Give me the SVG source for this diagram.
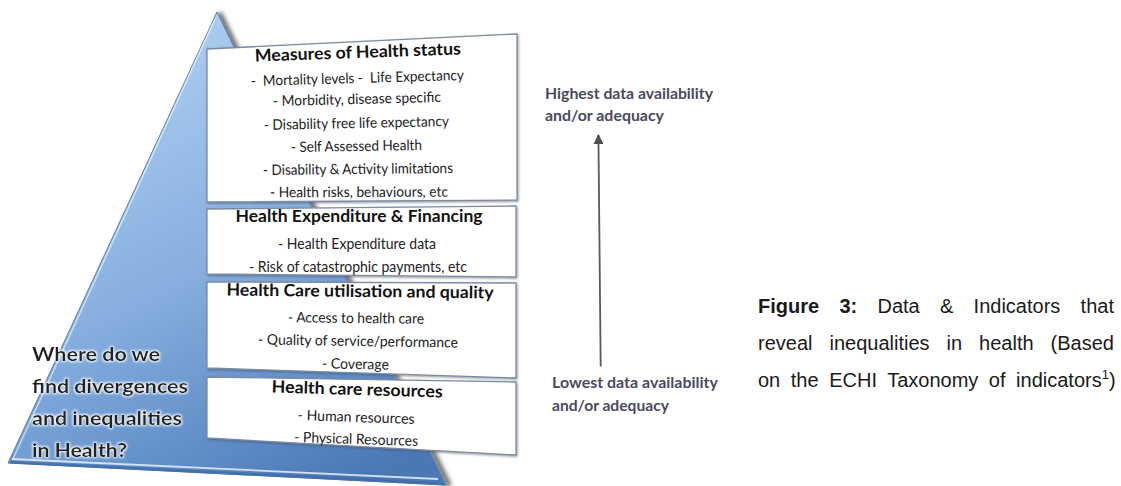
<svg xmlns="http://www.w3.org/2000/svg" width="1121" height="486" viewBox="0 0 1121 486">
<defs>
<linearGradient id="pyrGrad" gradientUnits="userSpaceOnUse" x1="140" y1="60" x2="360" y2="480">
<stop offset="0" stop-color="#a9cbef"/>
<stop offset="0.45" stop-color="#86afdf"/>
<stop offset="0.8" stop-color="#5f8cc7"/>
<stop offset="1" stop-color="#4a78b6"/>
</linearGradient>
<filter id="blur3" x="-20%" y="-20%" width="140%" height="140%"><feGaussianBlur stdDeviation="2.2"/></filter>
<filter id="boxShadow" x="-5%" y="-5%" width="110%" height="115%"><feDropShadow dx="1" dy="1.2" stdDeviation="0.9" flood-color="#40485a" flood-opacity="0.55"/></filter>
<filter id="glow" x="-10%" y="-30%" width="120%" height="160%">
<feMorphology in="SourceAlpha" operator="dilate" radius="1.2" result="d"/>
<feFlood flood-color="#ffffff" flood-opacity="0.85"/>
<feComposite in2="d" operator="in" result="w"/>
<feGaussianBlur in="w" stdDeviation="1.3" result="wb"/>
<feMerge><feMergeNode in="wb"/><feMergeNode in="SourceGraphic"/></feMerge>
</filter>
<marker id="arrowHead" viewBox="0 0 10 10" refX="9" refY="5" markerWidth="10" markerHeight="10" markerUnits="userSpaceOnUse" orient="auto">
<path d="M0,0 L10,5 L0,10 Z" fill="#4f4f4f"/>
</marker>
<style>
.box{fill:#ffffff;stroke:#7c8ba2;stroke-width:1.3;filter:url(#boxShadow)}
.ttl{font-family:Lato,"Open Sans","Liberation Sans",sans-serif;font-weight:bold;font-size:17px;fill:#111111;text-anchor:middle}
.itm{font-family:Lato,"Open Sans","Liberation Sans",sans-serif;font-size:14.5px;fill:#222222;text-anchor:middle}
.q{font-family:Lato,"Open Sans","Liberation Sans",sans-serif;font-weight:bold;font-size:19.5px;fill:#222222}
.avail{font-family:Lato,"Open Sans","Liberation Sans",sans-serif;font-weight:bold;font-size:15px;fill:#4a4a5e}
.cap{font-family:"Liberation Sans",Arial,sans-serif;font-size:20px;fill:#1a1a1a}
.capb{font-weight:bold}
</style>
</defs>

<g id="pyramid">
<path d="M219,13 L449,486" stroke="#3c3c3c" stroke-width="6" fill="none" opacity="0.75" filter="url(#blur3)"/>
<path d="M217,12 L446,485 L8,463 Z" fill="url(#pyrGrad)" stroke="#5a7fb0" stroke-width="1"/>
<path d="M215,19 L13,459" stroke="#ffffff" stroke-width="1.6" opacity="0.55" fill="none"/>
<path d="M12,459 L438,479" stroke="#e6f0fb" stroke-width="1.8" opacity="0.85" fill="none"/>
<path d="M10,462 L444,484" stroke="#3f6aa6" stroke-width="3" opacity="0.8" fill="none"/>
</g>

<g id="node-health-status">
<polygon class="box" points="207,49 517,34 517,200 207,202"/>
<text class="ttl" x="358" y="58" textLength="206" lengthAdjust="spacingAndGlyphs" transform="rotate(-2 358 58)">Measures of Health status</text>
<text class="itm" x="357.5" y="83" textLength="213" lengthAdjust="spacingAndGlyphs" transform="rotate(-1.6 357.5 83)" xml:space="preserve">-  Mortality levels -  Life Expectancy</text>
<text class="itm" x="357" y="104" textLength="168" lengthAdjust="spacingAndGlyphs" transform="rotate(-1.4 357 104)">- Morbidity, disease specific</text>
<text class="itm" x="356.5" y="128" textLength="185" lengthAdjust="spacingAndGlyphs" transform="rotate(-1.2 356.5 128)">- Disability free life expectancy</text>
<text class="itm" x="356.5" y="151" textLength="131" lengthAdjust="spacingAndGlyphs" transform="rotate(-0.9 356.5 151)">- Self Assessed Health</text>
<text class="itm" x="358" y="174" textLength="190" lengthAdjust="spacingAndGlyphs" transform="rotate(-0.6 358 174)">- Disability &amp; Activity limitations</text>
<text class="itm" x="359" y="197" textLength="178" lengthAdjust="spacingAndGlyphs" transform="rotate(-0.2 359 197)">- Health risks, behaviours, etc</text>
</g>

<g id="node-expenditure">
<polygon class="box" points="207,209 516,206 516,277 207,274"/>
<text class="ttl" x="359" y="222" textLength="247" lengthAdjust="spacingAndGlyphs">Health Expenditure &amp; Financing</text>
<text class="itm" x="357" y="249" textLength="158" lengthAdjust="spacingAndGlyphs">- Health Expenditure data</text>
<text class="itm" x="358" y="272" textLength="218" lengthAdjust="spacingAndGlyphs">- Risk of catastrophic payments, etc</text>
</g>

<g id="node-utilisation">
<polygon class="box" points="207,282 516,283 516,378 207,368"/>
<text class="ttl" x="360" y="297" textLength="267" lengthAdjust="spacingAndGlyphs" transform="rotate(0.6 360 297)">Health Care utilisation and quality</text>
<text class="itm" x="356" y="323" textLength="136" lengthAdjust="spacingAndGlyphs" transform="rotate(0.6 356 323)">- Access to health care</text>
<text class="itm" x="358" y="346" textLength="200" lengthAdjust="spacingAndGlyphs" transform="rotate(0.9 358 346)">- Quality of service/performance</text>
<text class="itm" x="355.5" y="369" textLength="67" lengthAdjust="spacingAndGlyphs" transform="rotate(0.9 355.5 369)">- Coverage</text>
</g>

<g id="node-resources">
<polygon class="box" points="207,377 516,382 516,455 207,438"/>
<text class="ttl" x="357" y="395" textLength="171" lengthAdjust="spacingAndGlyphs" transform="rotate(1.7 357 395)">Health care resources</text>
<text class="itm" x="356" y="422" textLength="117" lengthAdjust="spacingAndGlyphs" transform="rotate(1.9 356 422)">- Human resources</text>
<text class="itm" x="356" y="444" textLength="124" lengthAdjust="spacingAndGlyphs" transform="rotate(1.8 356 444)">- Physical Resources</text>
</g>

<g id="label-question" filter="url(#glow)">
<text class="q" x="32" y="361" textLength="128" lengthAdjust="spacingAndGlyphs">Where do we</text>
<text class="q" x="32" y="393" textLength="156" lengthAdjust="spacingAndGlyphs">find divergences</text>
<text class="q" x="32" y="425" textLength="150" lengthAdjust="spacingAndGlyphs">and inequalities</text>
<text class="q" x="32" y="457" textLength="95" lengthAdjust="spacingAndGlyphs">in Health?</text>
</g>

<g id="label-highest">
<text class="avail" x="545" y="99" textLength="168" lengthAdjust="spacingAndGlyphs">Highest data availability</text>
<text class="avail" x="545" y="121" textLength="119" lengthAdjust="spacingAndGlyphs">and/or adequacy</text>
</g>

<g id="label-lowest">
<text class="avail" x="552" y="388" textLength="166" lengthAdjust="spacingAndGlyphs">Lowest data availability</text>
<text class="avail" x="552" y="411" textLength="117" lengthAdjust="spacingAndGlyphs">and/or adequacy</text>
</g>

<g id="connectors">
<line x1="600.7" y1="366.5" x2="598.4" y2="135" stroke="#5a5a5a" stroke-width="1.8" marker-end="url(#arrowHead)"/>
</g>

<g id="caption">
<text class="cap" y="313"><tspan class="capb" x="758">Figure</tspan><tspan class="capb" x="839.4">3:</tspan><tspan x="877.5">Data</tspan><tspan x="940">&amp;</tspan><tspan x="973.6">Indicators</tspan><tspan x="1080.6">that</tspan></text>
<text class="cap" y="350"><tspan x="758">reveal</tspan><tspan x="829.5">inequalities</tspan><tspan x="946.5">in</tspan><tspan x="979.1">health</tspan><tspan x="1050.6">(Based</tspan></text>
<text class="cap" x="758" y="387" word-spacing="5">on the ECHI Taxonomy of indicators<tspan font-size="13" dy="-8">1</tspan><tspan dy="8">)</tspan></text>
</g>
</svg>
